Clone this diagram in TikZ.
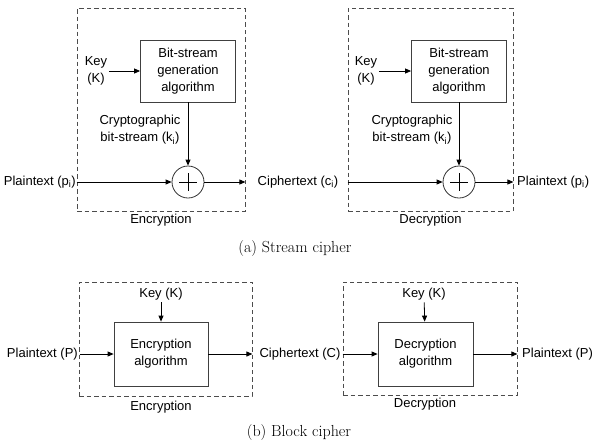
\documentclass[tikz,border=0pt]{standalone}
\usepackage{fontspec}
\setsansfont{Liberation Sans}
\usetikzlibrary{positioning, arrows.meta}
\tikzset{>={Triangle[length=6pt, width=5pt]}}
\tikzset{
  txt/.style={font=\sffamily\fontsize{13}{17}\selectfont, align=center, inner sep=2pt},
  algbox/.style={txt, draw=black!75, line width=0.8pt},
  frame/.style={draw=black!70, dash pattern=on 4.5pt off 3pt, line width=0.8pt},
  xorop/.style={circle, draw=black!80, line width=0.8pt, minimum size=32pt, inner sep=0pt},
  flow/.style={->, line width=0.8pt},
  captxt/.style={font=\fontsize{16}{19}\selectfont}
}

\begin{document}
\begin{tikzpicture}[x=1pt, y=-1pt]
\useasboundingbox (0,0) rectangle (599,445);

% (a) stream cipher
\node[frame, minimum width=168, minimum height=203] (encbox) at (161,109.5) {};
\node[frame, minimum width=165, minimum height=203] (decbox) at (430.5,109.5) {};
\node[txt] at (161,220) {Encryption};
\node[txt] at (430.5,220) {Decryption};

\node[algbox, minimum width=95, minimum height=62] (gen1) at (188,71) {Bit-stream\\generation\\algorithm};
\node[algbox, minimum width=95, minimum height=62] (gen2) at (459,71) {Bit-stream\\generation\\algorithm};
\node[txt] (key1) at (96,71) {Key\\(K)};
\node[txt] (key2) at (366,71) {Key\\(K)};
\node[txt] (ks1) at (140,130) {Cryptographic\\bit-stream (k\textsubscript{i})};
\node[txt] (ks2) at (412,130) {Cryptographic\\bit-stream (k\textsubscript{i})};
\node[xorop] (x1) at (188,182) {};
\node[xorop] (x2) at (459,182) {};
\foreach \n in {x1,x2} {
  \draw[line width=0.8pt] (\n.center) ++(-9,0) -- ++(18,0);
  \draw[line width=0.8pt] (\n.center) ++(0,-9) -- ++(0,18);
}
\node[txt, left] (pt1) at (78,182) {Plaintext (p\textsubscript{i})};
\node[txt] (ct1) at (298,182) {Ciphertext (c\textsubscript{i})};
\node[txt, right] (pt2) at (515,182) {Plaintext (p\textsubscript{i})};

\draw[flow] (key1) -- (gen1);
\draw[flow] (key2) -- (gen2);
\draw[flow] (gen1) -- (x1);
\draw[flow] (gen2) -- (x2);
\draw[flow] (encbox.west |- x1) -- (x1);
\draw[flow] (x1) -- (x1 -| encbox.east);
\draw[flow] (decbox.west |- x2) -- (x2);
\draw[flow] (x2) -- (x2 -| decbox.east);

\node[captxt] at (295,249) {(a) Stream cipher};

% (b) block cipher
\node[frame, minimum width=173, minimum height=114] (encbox2) at (165.5,339) {};
\node[frame, minimum width=174, minimum height=113] (decbox2) at (430,338.5) {};
\node[txt] at (161,407) {Encryption};
\node[txt] at (425,404) {Decryption};

\node[algbox, minimum width=94, minimum height=64] (blk1) at (161,354) {Encryption\\algorithm};
\node[algbox, minimum width=95, minimum height=64] (blk2) at (425.5,354) {Decryption\\algorithm};
\node[txt] (keyb1) at (161,294) {Key (K)};
\node[txt] (keyb2) at (424,294) {Key (K)};
\node[txt, left] (ptb1) at (80,354) {Plaintext (P)};
\node[txt] (ctb) at (300,354) {Ciphertext (C)};
\node[txt, right] (ptb2) at (520,354) {Plaintext (P)};

\draw[flow] (keyb1) -- (blk1);
\draw[flow] (keyb2) -- (blk2);
\draw[flow] (ptb1) -- (blk1);
\draw[flow] (blk1) -- (blk1 -| encbox2.east);
\draw[flow] (ctb) -- (blk2);
\draw[flow] (blk2) -- (blk2 -| decbox2.east);

\node[captxt] at (299,432) {(b) Block cipher};
\end{tikzpicture}
\end{document}
